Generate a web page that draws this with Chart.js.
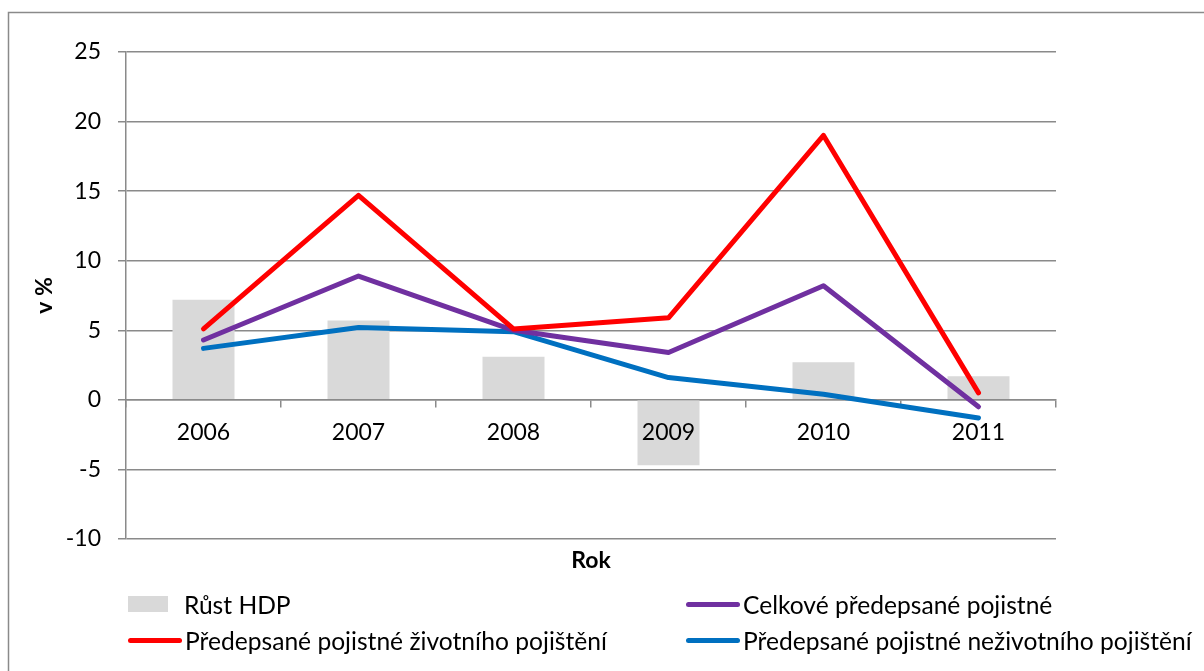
<!DOCTYPE html>
<html>
<head>
<meta charset="utf-8">
<script src="https://cdn.jsdelivr.net/npm/chart.js@4.4.1/dist/chart.umd.min.js"></script>
<style>
  html, body { margin: 0; padding: 0; background: #fff; }
  #wrap { position: relative; width: 1204px; height: 671px; overflow: hidden; }
  #legend { position: absolute; left: 0; top: 0; width: 1204px; height: 671px; pointer-events: none;
            font-family: Lato, "Open Sans", sans-serif; font-size: 24.6px; color: #000; }
  .item { position: absolute; display: flex; align-items: center; white-space: nowrap; height: 30px; }
  .sw-bar { width: 40px; height: 16px; margin-right: 16px; }
  .sw-line { width: 54px; height: 5px; border-radius: 3px; margin-right: 3px; }
</style>
</head>
<body>
<div id="wrap">
  <canvas id="c" width="1204" height="671"></canvas>
  <div id="legend"></div>
</div>
<script>
// Years and annual growth rates (%)
const years = ['2006', '2007', '2008', '2009', '2010', '2011'];
const rustHdp = [7.2, 5.7, 3.1, -4.7, 2.7, 1.7];
const celkovePojistne = [4.3, 8.9, 5.0, 3.4, 8.2, -0.5];
const zivotniPojisteni = [5.1, 14.7, 5.1, 5.9, 19.0, 0.5];
const nezivotniPojisteni = [3.7, 5.2, 4.9, 1.6, 0.4, -1.3];
const yTicks = { min: -10, max: 25, step: 5 };

const FONT = 'Lato, "Open Sans", sans-serif';
const GRID = '#8a8a8a';

// Outer frame, and the category axis title under the plot
const frame = {
  id: 'frame',
  beforeDraw(chart) {
    const ctx = chart.ctx;
    ctx.save();
    ctx.fillStyle = '#fff';
    ctx.fillRect(0, 0, chart.width, chart.height);
    ctx.strokeStyle = GRID;
    ctx.lineWidth = 1.5;
    ctx.strokeRect(8.5, 12.5, chart.width + 20, chart.height + 20);
    ctx.restore();
  },
  afterDraw(chart) {
    const ctx = chart.ctx, a = chart.chartArea;
    ctx.save();
    ctx.fillStyle = '#000';
    ctx.font = 'bold 23px ' + FONT;
    ctx.textAlign = 'center';
    ctx.textBaseline = 'middle';
    ctx.fillText('Rok', (a.left + a.right) / 2, a.bottom + 22);
    ctx.restore();
  }
};

const lineDs = (label, data, color, order) => ({
  type: 'line', label, data, order,
  borderColor: color, backgroundColor: color,
  borderWidth: 5, pointRadius: 0, tension: 0,
  borderCapStyle: 'round', borderJoinStyle: 'round', fill: false
});

const chart = new Chart(document.getElementById('c'), {
  data: {
    labels: years,
    datasets: [
      { type: 'bar', label: 'Růst HDP', data: rustHdp, backgroundColor: '#d9d9d9',
        order: 10, barPercentage: 0.4, categoryPercentage: 1.0 },
      lineDs('Celkové předepsané pojistné', celkovePojistne, '#7030a0', 2),
      lineDs('Předepsané pojistné životního pojištění', zivotniPojisteni, '#ff0000', 1),
      lineDs('Předepsané pojistné neživotního pojištění', nezivotniPojisteni, '#0070c0', 3)
    ]
  },
  options: {
    responsive: false,
    animation: false,
    events: [],
    layout: { padding: { left: 0, top: 52, right: 148, bottom: 132 } },
    plugins: { legend: { display: false }, tooltip: { enabled: false } },
    scales: {
      x: {
        type: 'category',
        position: { y: 0 },
        offset: true,
        grid: { display: true, drawOnChartArea: false, drawTicks: true, tickLength: 7,
                color: GRID, lineWidth: 1.5, offset: true },
        border: { display: true, color: GRID, width: 1.5 },
        // year labels sit on top of the bars
        ticks: { z: 1, color: '#000', font: { family: FONT, size: 23 }, padding: 12, maxRotation: 0 }
      },
      y: {
        min: yTicks.min, max: yTicks.max,
        afterFit(scale) { scale.width = 126; },
        grid: { color: GRID, lineWidth: 1.5, tickLength: 8 },
        border: { display: true, color: GRID, width: 1.5 },
        ticks: { stepSize: yTicks.step, color: '#000', font: { family: FONT, size: 23 }, padding: 17 },
        title: { display: true, text: 'v %', color: '#000',
                 font: { family: FONT, size: 23, weight: 'bold' }, padding: { top: 31, bottom: 0 } }
      }
    }
  },
  plugins: [frame]
});

// Legend in two columns, built from the datasets
const slots = [
  { ds: 0, x: 128, y: 589 },
  { ds: 1, x: 686, y: 589 },
  { ds: 2, x: 128, y: 625 },
  { ds: 3, x: 686, y: 625 }
];
const legend = document.getElementById('legend');
slots.forEach(s => {
  const ds = chart.data.datasets[s.ds];
  const el = document.createElement('div');
  el.className = 'item';
  el.style.left = s.x + 'px';
  el.style.top = s.y + 'px';
  const sw = document.createElement('span');
  sw.className = ds.type === 'bar' ? 'sw-bar' : 'sw-line';
  sw.style.background = ds.type === 'bar' ? ds.backgroundColor : ds.borderColor;
  const tx = document.createElement('span');
  tx.textContent = ds.label;
  el.appendChild(sw);
  el.appendChild(tx);
  legend.appendChild(el);
});
</script>
</body>
</html>
